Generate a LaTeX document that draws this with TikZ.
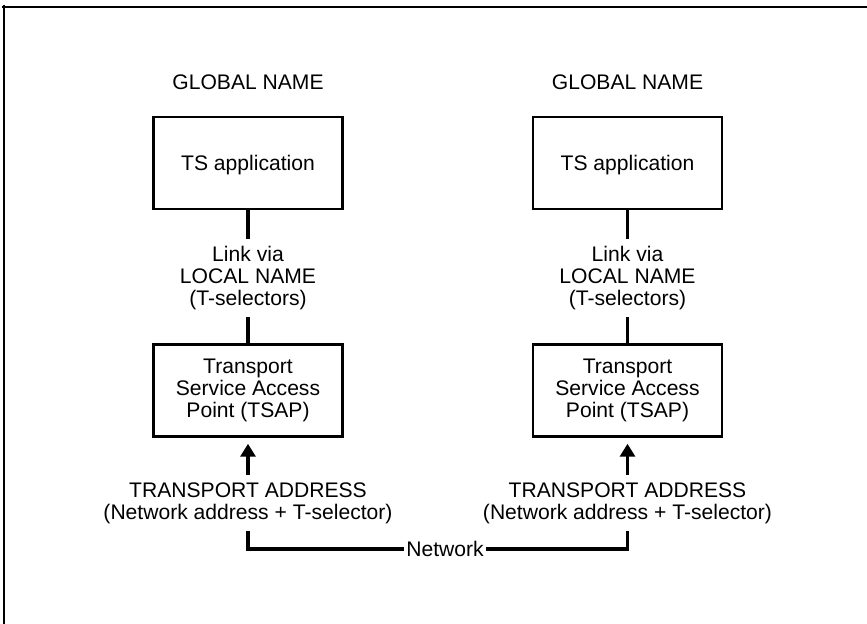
\documentclass[tikz,border=0pt]{standalone}
\usepackage{fontspec}
\setmainfont{Liberation Sans}
\usetikzlibrary{arrows.meta}
\begin{document}
\begin{tikzpicture}[x=0.5pt,y=-0.5pt,
  every node/.style={font=\fontsize{10.55}{10.9}\selectfont, align=center},
  box/.style={draw, line width=1.25pt, minimum width=94.5pt, minimum height=46pt, inner sep=0pt},
  label/.style={inner sep=3.5pt},
  link/.style={line width=1.6pt},
  arr/.style={line width=1.6pt, -{Triangle[width=7.5pt,length=6.5pt]}, shorten >=3pt}]
  \useasboundingbox (0,0) rectangle (867,624);
  % frame edges
  \coordinate (ftl) at (2,7);
  \coordinate (ftr) at (867,7);
  \coordinate (fl1) at (4,5);
  \coordinate (fl2) at (4,624);
  \draw[line width=0.6pt] (ftl) -- (ftr);
  \draw[line width=0.6pt] (fl1) -- (fl2);

  % left column
  \node (gn1) at (248,82) {GLOBAL NAME};
  \node[box, text depth=0pt] (app1) at (248,163) {TS application};
  \node[label] (ln1) at (248,278) {Link via\\LOCAL NAME\\(T-selectors)};
  \node[box] (tsap1) at (248,390.5) {Transport\\Service Access\\Point (TSAP)};
  \node[label] (ta1) at (248,503) {TRANSPORT ADDRESS\\(Network address + T-selector)};

  % right column
  \node (gn2) at (627.5,82) {GLOBAL NAME};
  \node[box, text depth=0pt] (app2) at (627.5,163) {TS application};
  \node[label] (ln2) at (627.5,278) {Link via\\LOCAL NAME\\(T-selectors)};
  \node[box] (tsap2) at (627.5,390.5) {Transport\\Service Access\\Point (TSAP)};
  \node[label] (ta2) at (627.5,503) {TRANSPORT ADDRESS\\(Network address + T-selector)};

  % network between both transport addresses
  \node[inner sep=1pt] (net) at (445,549) {Network};
  \coordinate (c1) at (248,549);
  \coordinate (c2) at (627.5,549);

  \draw[link] (app1) -- (ln1);
  \draw[link] (ln1) -- (tsap1);
  \draw[arr] (ta1) -- (tsap1);
  \draw[link] (app2) -- (ln2);
  \draw[link] (ln2) -- (tsap2);
  \draw[arr] (ta2) -- (tsap2);
  \draw[link] (ta1.south) -- (c1) -- (net.west);
  \draw[link] (net.east) -- (c2) -- (ta2.south);
\end{tikzpicture}
\end{document}
